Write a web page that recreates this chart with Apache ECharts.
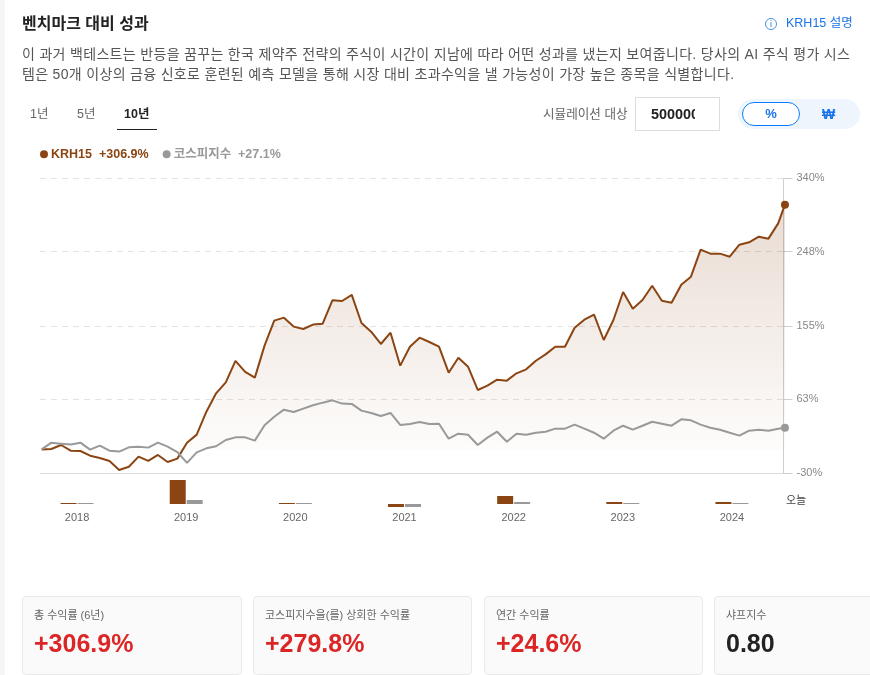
<!DOCTYPE html>
<html lang="ko">
<head>
<meta charset="utf-8">
<title>벤치마크 대비 성과</title>
<script src="https://cdn.jsdelivr.net/npm/echarts@6/dist/echarts.min.js"></script>
<style>
  html, body { margin: 0; padding: 0; background: #fff; overflow: hidden; }
  body { width: 870px; height: 675px; position: relative; font-family: "Liberation Sans", "Noto Sans CJK KR", sans-serif; color: #333; }
  .strip { position: absolute; left: 0; top: 0; width: 5px; height: 675px; background: #f6f6f6; }
  .abs { position: absolute; white-space: nowrap; }
  .title { left: 22px; top: 14px; font-size: 16px; line-height: 20px; font-weight: 700; color: #222; }
  .explain { left: 786px; top: 15px; font-size: 12.5px; line-height: 16px; color: #1a73e8; }
  .info { left: 765px; top: 18px; width: 12px; height: 12px; box-sizing: border-box; border: 1px solid #4a90e2; border-radius: 50%; font-size: 9px; line-height: 10px; text-align: center; color: #1a73e8; }
  .desc { left: 22px; top: 45px; width: 832px; font-size: 14px; line-height: 19.6px; letter-spacing: 0.32px; color: #555; white-space: normal; }
  .tab { top: 105px; font-size: 12.5px; line-height: 18px; color: #666; }
  .tab.on { font-weight: 700; color: #222; }
  .tabline { left: 117px; top: 129px; width: 40px; height: 1px; background: #222; }
  .simlabel { left: 543px; top: 106px; font-size: 12.6px; line-height: 16px; color: #666; }
  input.amount { position: absolute; left: 635px; top: 97px; width: 85px; height: 34px; box-sizing: border-box; border: 1px solid #dddddd; padding: 0 24px 0 15px; font: 700 14.4px "Liberation Sans", sans-serif; color: #222; outline: none; background: #fff; }
  .toggle { left: 738px; top: 99px; width: 122px; height: 30px; border-radius: 15px; background: #eff5fd; }
  .pill { left: 742px; top: 102px; width: 58px; height: 24px; box-sizing: border-box; border: 1px solid #0a7cff; border-radius: 12px; background: #fff; color: #1a73e8; font-size: 13px; font-weight: 700; line-height: 22px; text-align: center; }
  .won { left: 822px; top: 105px; font-size: 14px; line-height: 18px; font-weight: 700; color: #1a73e8; }
  #chart { position: absolute; left: 0; top: 0; width: 870px; height: 675px; }
  .card { position: absolute; top: 596px; height: 79px; box-sizing: border-box; background: #fafafa; border: 1px solid #e9e9e9; border-radius: 4px; padding: 11px 0 0 11px; overflow: hidden; }
  .card .name { font-size: 11px; line-height: 14px; color: #666; white-space: nowrap; }
  .card .num { margin-top: 6px; font-size: 25px; line-height: 30px; font-weight: 700; color: #dc2626; white-space: nowrap; }
  .card .num.plain { color: #222; }
</style>
</head>
<body>
<div class="strip"></div>
<div id="chart"></div>
<div class="abs title">벤치마크 대비 성과</div>
<div class="abs info">i</div>
<div class="abs explain">KRH15 설명</div>
<div class="abs desc">이 과거 백테스트는 반등을 꿈꾸는 한국 제약주 전략의 주식이 시간이 지남에 따라 어떤 성과를 냈는지 보여줍니다. 당사의 AI 주식 평가 시스템은 50개 이상의 금융 신호로 훈련된 예측 모델을 통해 시장 대비 초과수익을 낼 가능성이 가장 높은 종목을 식별합니다.</div>
<div class="abs tab" style="left:30px">1년</div>
<div class="abs tab" style="left:77px">5년</div>
<div class="abs tab on" style="left:124px">10년</div>
<div class="abs tabline"></div>
<div class="abs simlabel">시뮬레이션 대상</div>
<input class="amount" value="5000000">
<div class="abs toggle"></div>
<div class="abs pill">%</div>
<div class="abs won">₩</div>
<div class="card" style="left:22px;width:220px"><div class="name">총 수익률 (6년)</div><div class="num">+306.9%</div></div>
<div class="card" style="left:253px;width:219px"><div class="name">코스피지수을(를) 상회한 수익률</div><div class="num">+279.8%</div></div>
<div class="card" style="left:484px;width:219px"><div class="name">연간 수익률</div><div class="num">+24.6%</div></div>
<div class="card" style="left:714px;width:176px"><div class="name">샤프지수</div><div class="num plain">0.80</div></div>
<script>
const FONT = '"Liberation Sans", "Noto Sans CJK KR", sans-serif'
const BROWN = '#8B4513'
const GREY = '#999999'

// 누적 수익률 (%)
const krh15 = [
  0, 0.5, 5.5, -1.6, -2, -7.9, -10.8, -14.5, -25.8, -21.7,
  -9.1, -14.5, -7, -15.8, -11.6, 8.4, 18.5, 47.3, 70.3, 84.1,
  110.9, 97.1, 90, 130.1, 161.5, 165.2, 154, 151, 156.5, 157.7,
  187, 186.1, 193.7, 158.5, 147.6, 132.2, 146.4, 105, 128.8, 140.1,
  134.7, 128.8, 96.2, 115, 103.7, 74.5, 79.9, 87.4, 86.2, 95.4,
  100.4, 111.2, 119.2, 128.8, 128.8, 152.6, 162.7, 168.9, 137.2, 162.3,
  197.4, 176.5, 187.3, 205.3, 186.5, 184, 206.6, 216.6, 250.5, 245.5,
  245.5, 241.7, 256.7, 259.7, 266.8, 264.3, 283.5, 306.9
]
const kospi = [
  0, 8.4, 7.2, 6, 8.4, -0.3, 4.7, -1.6, -2.8, 2.6,
  3.4, 2.2, 8.4, 3.4, -3.3, -17, -3.7, 1.3, 3.9, 11.8,
  15.1, 15.1, 11, 30.2, 41, 49.8, 46.9, 51.1, 55.3, 58.6,
  61.5, 57.4, 57, 48.6, 45.7, 41.9, 45.7, 30.6, 31.9, 34.4,
  31.9, 32.2, 13.4, 19.7, 18.4, 5.5, 14.7, 22.2, 9.6, 19.7,
  18.4, 20.9, 22.2, 26, 26, 31, 26, 20.9, 13.4, 23.4,
  29.7, 24.7, 29.7, 34.7, 32.2, 29.7, 37.7, 36.4, 31, 27.2,
  24.7, 20.9, 17.2, 23.4, 24.7, 23.4, 26, 27.1
]
// 마지막 점(오늘)은 간격이 조금 짧다
const lastPos = 76.7

const yearLabels = ['2018', '2019', '2020', '2021', '2022', '2023', '2024']
const yearKrh15 = [6, 144, 6, -18, 48, 12, 12]
const yearKospi = [6, 24, 6, -18, 12, 6, 6]

const yTicks = [-30, 63, 155, 248, 340]

function withPos(values) {
  return values.map((v, i) => [i === values.length - 1 ? lastPos : i, v])
}
function endDot(value, params) {
  return params.dataIndex === krh15.length - 1 ? 'circle' : 'none'
}

const myChart = echarts.init(document.getElementById('chart'))
myChart.setOption({
  animation: false,
  textStyle: { fontFamily: FONT },
  legend: {
    left: 35,
    top: 143,
    icon: 'circle',
    itemWidth: 8,
    itemHeight: 8,
    itemGap: 14,
    selectedMode: false,
    data: [
      { name: 'KRH15  +306.9%', textStyle: { color: BROWN } },
      { name: '코스피지수  +27.1%', textStyle: { color: GREY } }
    ],
    textStyle: { fontSize: 12.5, fontWeight: 600, fontFamily: FONT, padding: [0, 0, 0, -2] }
  },
  grid: [
    { left: 40, right: 86.5, top: 178.3, height: 295 },
    { left: 22.5, right: 83.5, top: 480, height: 27 }
  ],
  xAxis: [
    {
      type: 'value',
      gridIndex: 0,
      min: -0.17,
      max: 76.55,
      axisLine: { onZero: false, lineStyle: { color: '#dcdcdc' } },
      axisTick: { show: false },
      axisLabel: { show: false },
      splitLine: { show: false }
    },
    {
      type: 'category',
      gridIndex: 1,
      data: yearLabels,
      axisLine: { show: false },
      axisTick: { show: false },
      axisLabel: { color: '#666', fontSize: 11, margin: 5 }
    }
  ],
  yAxis: [
    {
      type: 'value',
      gridIndex: 0,
      position: 'right',
      min: -30,
      max: 340,
      axisLine: { show: true, onZero: false, lineStyle: { color: '#cfcfcf' } },
      axisTick: { show: true, length: 9, lineStyle: { color: '#cfcfcf' }, customValues: yTicks },
      axisLabel: { color: '#888', fontSize: 11, margin: 13, padding: [2, 0, 0, 0], formatter: '{value}%', customValues: yTicks },
      splitLine: { show: true, lineStyle: { color: '#e3e3e3', type: [6, 5] } }
    },
    {
      type: 'value',
      gridIndex: 1,
      min: -18,
      max: 144,
      axisLine: { show: false },
      axisTick: { show: false },
      axisLabel: { show: false },
      splitLine: { show: false }
    }
  ],
  graphic: [{
    type: 'text',
    left: 786,
    top: 495,
    style: { text: '오늘', fill: '#444', font: '11px ' + FONT }
  }],
  series: [
    {
      name: 'KRH15  +306.9%',
      type: 'line',
      xAxisIndex: 0,
      yAxisIndex: 0,
      z: 3,
      clip: false,
      showAllSymbol: true,
      symbol: endDot,
      symbolSize: 8,
      lineStyle: { color: BROWN, width: 2 },
      itemStyle: { color: BROWN },
      areaStyle: {
        color: new echarts.graphic.LinearGradient(0, 0, 0, 1, [{
          offset: 0,
          color: 'rgba(139, 69, 19, 0.27)'
        }, {
          offset: 1,
          color: 'rgba(139, 69, 19, 0)'
        }])
      },
      data: withPos(krh15)
    },
    {
      name: '코스피지수  +27.1%',
      type: 'line',
      xAxisIndex: 0,
      yAxisIndex: 0,
      z: 4,
      clip: false,
      showAllSymbol: true,
      symbol: endDot,
      symbolSize: 8,
      lineStyle: { color: GREY, width: 2 },
      itemStyle: { color: GREY },
      data: withPos(kospi)
    },
    {
      type: 'bar',
      xAxisIndex: 1,
      yAxisIndex: 1,
      barWidth: 16,
      barGap: '6%',
      itemStyle: { color: BROWN },
      data: yearKrh15
    },
    {
      type: 'bar',
      xAxisIndex: 1,
      yAxisIndex: 1,
      barWidth: 16,
      barGap: '6%',
      itemStyle: { color: GREY },
      data: yearKospi
    }
  ]
})
</script>
</body>
</html>
